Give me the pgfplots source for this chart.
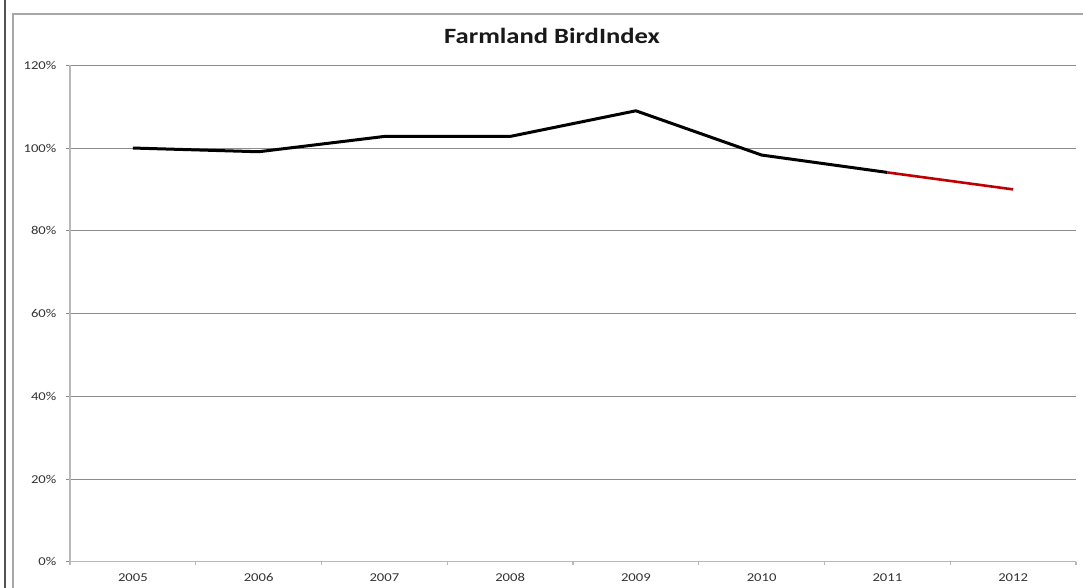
\documentclass[border=0pt]{standalone}
\usepackage{fontspec}
\setmainfont{Carlito}[FakeStretch=1.22]
\usepackage{pgfplots}
\pgfplotsset{compat=1.18}
\definecolor{gridgray}{HTML}{8C8C8C}
\definecolor{axisgray}{HTML}{B8B8B8}
\definecolor{framegray}{HTML}{A8A8A8}
\definecolor{labgray}{HTML}{333333}
\definecolor{darkred}{HTML}{C00000}
\begin{document}
\begin{tikzpicture}
\useasboundingbox (0,0) rectangle (541.5pt,294pt);
\fill[white] (0,0) rectangle (541.5pt,294pt);
\draw[color=darkgray!90, line width=1.2pt] (2.6pt,0) -- (2.6pt,294pt);
\draw[color=framegray, line width=0.8pt] (6.4pt,0) -- (6.4pt,287pt) -- (545pt,287pt);
\begin{axis}[
  at={(35pt,13.15pt)}, anchor=south west,
  scale only axis, width=503pt, height=248.2pt,
  xmin=-0.5, xmax=7.5, ymin=0, ymax=120,
  xtick={0,...,7},
  xticklabels={2005,2006,2007,2008,2009,2010,2011,2012},
  minor xtick={-0.5,0.5,...,7.5},
  ytick={0,20,...,120},
  yticklabels={0\%,20\%,40\%,60\%,80\%,100\%,120\%},
  tick align=outside, tick pos=left,
  major tick length=2pt, minor tick length=1.6pt,
  xtick style={draw=none},
  minor x tick style={draw=axisgray, line width=0.6pt},
  ytick style={draw=gridgray, line width=0.4pt},
  ymajorgrids, grid style={draw=gridgray, line width=0.45pt},
  axis x line*=bottom, axis y line*=left,
  axis line style={draw=axisgray, line width=0.8pt, -},
  ticklabel style={font=\fontsize{6}{7}\selectfont, text=labgray},
  xticklabel style={yshift=-0.4pt},
  yticklabel style={xshift=-1.3pt},
  clip=false,
]
\addplot[black, line width=1.5pt, line join=round] coordinates {
  (0,100) (1,99.1) (2,102.8) (3,102.8) (4,109.0) (5,98.3) (6,94.1)
};
\addplot[darkred, line width=1.3pt] coordinates {
  (6,94.1) (7,90.0)
};
\end{axis}
\node[font=\bfseries\fontsize{10.9}{12}\selectfont, text=black!90] at (276pt,276pt) {Farmland BirdIndex};
\end{tikzpicture}
\end{document}
